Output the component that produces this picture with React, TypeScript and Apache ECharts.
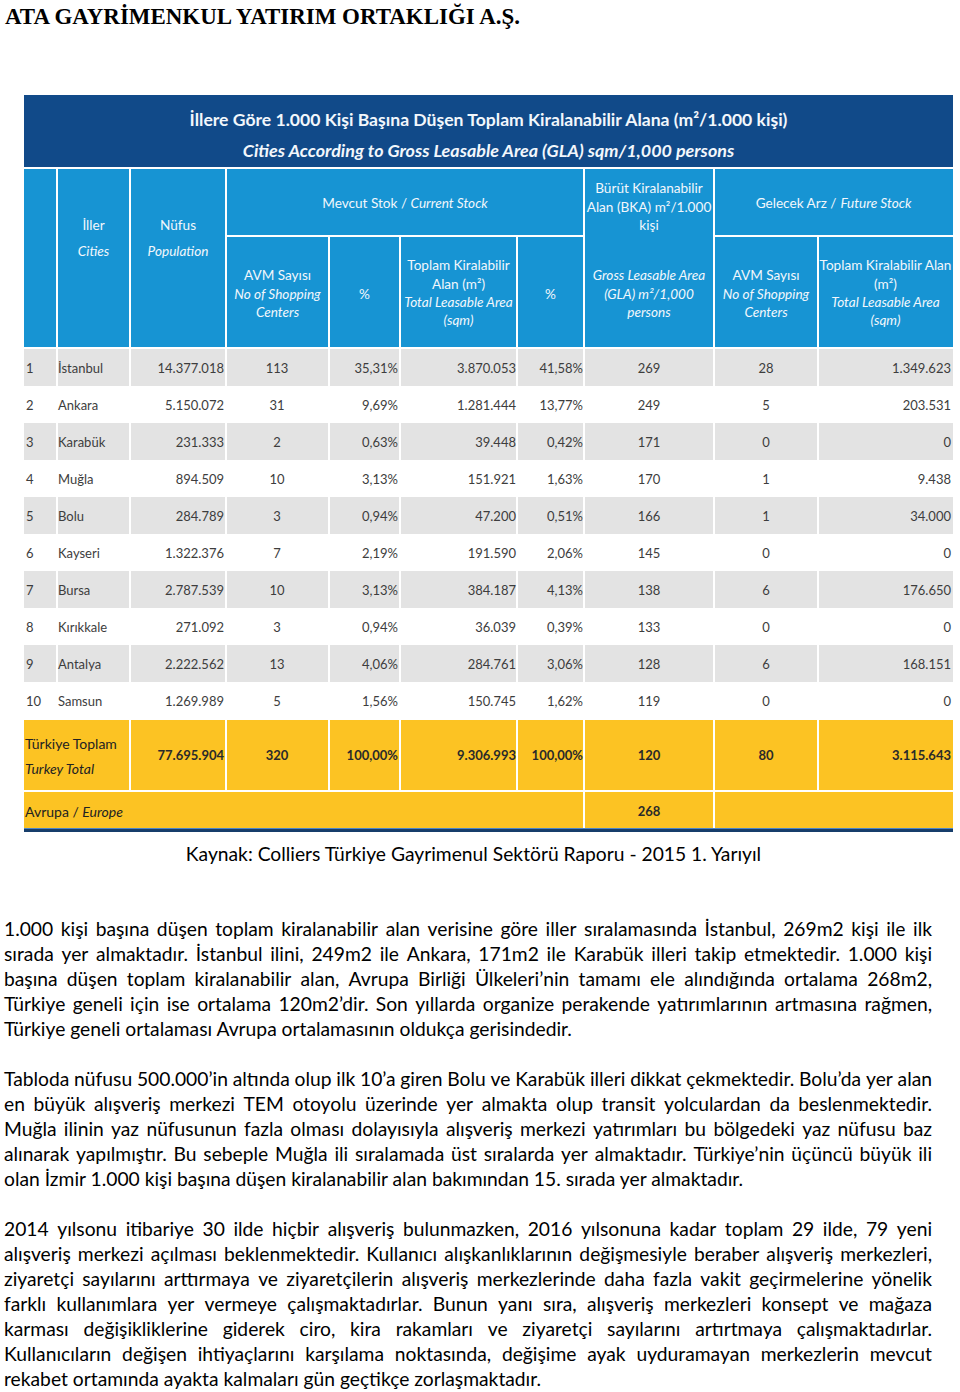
import React, { useEffect, useRef } from "react";
import * as echarts from "echarts";

// ---------- DATA ----------
const pageTitle = "ATA GAYRİMENKUL YATIRIM ORTAKLIĞI A.Ş.";
const tableTitleTr = "İllere Göre 1.000 Kişi Başına Düşen Toplam Kiralanabilir Alana (m²/1.000 kişi)";
const tableTitleEn = "Cities According to Gross Leasable Area (GLA) sqm/1,000 persons";

const ranks = [1, 2, 3, 4, 5, 6, 7, 8, 9, 10];
const cities = ["İstanbul", "Ankara", "Karabük", "Muğla", "Bolu", "Kayseri", "Bursa", "Kırıkkale", "Antalya", "Samsun"];
const population = [14377018, 5150072, 231333, 894509, 284789, 1322376, 2787539, 271092, 2222562, 1269989];
const avmCount = [113, 31, 2, 10, 3, 7, 10, 3, 13, 5];
const avmShare = [35.31, 9.69, 0.63, 3.13, 0.94, 2.19, 3.13, 0.94, 4.06, 1.56];
const glaTotal = [3870053, 1281444, 39448, 151921, 47200, 191590, 384187, 36039, 284761, 150745];
const glaShare = [41.58, 13.77, 0.42, 1.63, 0.51, 2.06, 4.13, 0.39, 3.06, 1.62];
const glaPer1000 = [269, 249, 171, 170, 166, 145, 138, 133, 128, 119];
const futureAvm = [28, 5, 0, 1, 1, 0, 6, 0, 6, 0];
const futureGla = [1349623, 203531, 0, 9438, 34000, 0, 176650, 0, 168151, 0];

const totalLabel = ["Türkiye Toplam", "Turkey Total"];
const totalPopulation = 77695904;
const totalAvm = 320;
const totalAvmShare = 100;
const totalGla = 9306993;
const totalGlaShare = 100;
const totalGlaPer1000 = 120;
const totalFutureAvm = 80;
const totalFutureGla = 3115643;

const europeLabel = ["Avrupa / ", "Europe"];
const europeGlaPer1000 = 268;

const sourceNote = "Kaynak: Colliers Türkiye Gayrimenul Sektörü Raporu - 2015 1. Yarıyıl";

const paragraphs = [
  [
    "1.000 kişi başına düşen toplam kiralanabilir alan verisine göre iller sıralamasında İstanbul, 269m2 kişi ile ilk",
    "sırada yer almaktadır. İstanbul ilini, 249m2 ile Ankara, 171m2 ile Karabük illeri takip etmektedir. 1.000 kişi",
    "başına düşen toplam kiralanabilir alan, Avrupa Birliği Ülkeleri’nin tamamı ele alındığında ortalama 268m2,",
    "Türkiye geneli için ise ortalama 120m2’dir. Son yıllarda organize perakende yatırımlarının artmasına rağmen,",
    "Türkiye geneli ortalaması Avrupa ortalamasının oldukça gerisindedir.",
  ],
  [
    "Tabloda nüfusu 500.000’in altında olup ilk 10’a giren Bolu ve Karabük illeri dikkat çekmektedir. Bolu’da yer alan",
    "en büyük alışveriş merkezi TEM otoyolu üzerinde yer almakta olup transit yolculardan da beslenmektedir.",
    "Muğla ilinin yaz nüfusunun fazla olması dolayısıyla alışveriş merkezi yatırımları bu bölgedeki yaz nüfusu baz",
    "alınarak yapılmıştır. Bu sebeple Muğla ili sıralamada üst sıralarda yer almaktadır. Türkiye’nin üçüncü büyük ili",
    "olan İzmir 1.000 kişi başına düşen kiralanabilir alan bakımından 15. sırada yer almaktadır.",
  ],
  [
    "2014 yılsonu itibariye 30 ilde hiçbir alışveriş bulunmazken, 2016 yılsonuna kadar toplam 29 ilde, 79 yeni",
    "alışveriş merkezi açılması beklenmektedir. Kullanıcı alışkanlıklarının değişmesiyle beraber alışveriş merkezleri,",
    "ziyaretçi sayılarını arttırmaya ve ziyaretçilerin alışveriş merkezlerinde daha fazla vakit geçirmelerine yönelik",
    "farklı kullanımlara yer vermeye çalışmaktadırlar. Bunun yanı sıra, alışveriş merkezleri konsept ve mağaza",
    "karması değişikliklerine giderek ciro, kira rakamları ve ziyaretçi sayılarını artırtmaya çalışmaktadırlar.",
    "Kullanıcıların değişen ihtiyaçlarını karşılama noktasında, değişime ayak uyduramayan merkezlerin mevcut",
    "rekabet ortamında ayakta kalmaları gün geçtikçe zorlaşmaktadır.",
  ],
];

// ---------- LAYOUT / STYLE ----------
const DARK = "#114a89";
const LIGHT = "#1794d3";
const GREY = "#e3e3e3";
const YELLOW = "#fcc323";
const HEAD_TXT = "#f2f7fc";
const CELL_TXT = "#3d3d3d";
const TF = "Lato, 'Noto Sans', sans-serif";
const BF = "Lato, 'Noto Sans', sans-serif";

const edges = [24, 57, 130, 226, 329, 400, 517, 584, 714, 818, 953];
const colAnchor: [number, string][] = [
  [26, "left"], [58, "left"], [224, "right"], [277, "center"], [398, "right"],
  [516, "right"], [583, "right"], [649, "center"], [766, "center"], [951, "right"],
];

const fmtInt = (n: number) => String(n).replace(/\B(?=(\d{3})+(?!\d))/g, ".");
const fmtPct = (n: number) => n.toFixed(2).replace(".", ",") + "%";

let ctx: CanvasRenderingContext2D | null = null;
function measure(t: string, font: string) {
  if (!ctx) ctx = document.createElement("canvas").getContext("2d");
  ctx!.font = font;
  return ctx!.measureText(t).width;
}
function fitSize(t: string, prefix: string, family: string, target: number) {
  const w = measure(t, `${prefix} 100px ${family}`);
  return (100 * target) / w;
}

function rect(x: number, y: number, w: number, h: number, fill: string) {
  return { type: "rect", silent: true, shape: { x, y, width: w, height: h }, style: { fill } };
}
function txt(text: string, x: number, y: number, font: string, fill: string, align = "left") {
  return {
    type: "text",
    silent: true,
    x,
    y,
    style: { text, font, fill, align, verticalAlign: "middle", textAlign: align, textVerticalAlign: "middle" },
  };
}
function mixed(segs: [string, string][], x: number, y: number, fill: string, align: string, els: any[]) {
  const ws = segs.map(([t, f]) => measure(t, f));
  const total = ws.reduce((a, b) => a + b, 0);
  let cx = align === "center" ? x - total / 2 : x;
  segs.forEach(([t, f], i) => {
    els.push(txt(t, cx, y, f, fill, "left"));
    cx += ws[i];
  });
}

function buildElements() {
  const els: any[] = [];
  // page title
  const titleSize = fitSize(pageTitle, "bold", "'Liberation Serif'", 520);
  els.push(txt(pageTitle, 5, 16, `bold ${titleSize}px 'Liberation Serif'`, "#000"));

  const L = edges[0];
  const R = edges[edges.length - 1];
  const W = R - L;

  // title band
  els.push(rect(L, 95, W, 72, DARK));
  const s1 = fitSize(tableTitleTr, "bold", TF, 600);
  const s2 = fitSize(tableTitleEn, "italic bold", TF, 493);
  els.push(txt(tableTitleTr, (L + R) / 2, 119, `bold ${s1}px ${TF}`, HEAD_TXT, "center"));
  els.push(txt(tableTitleEn, (L + R) / 2, 150, `italic bold ${s2}px ${TF}`, HEAD_TXT, "center"));

  // header band
  els.push(rect(L, 169, W, 178, LIGHT));
  [57, 130, 226, 584, 714].forEach((e) => els.push(rect(e - 1, 169, 2, 178, "#fff")));
  els.push(rect(226, 235, 584 - 226, 2, "#fff"));
  els.push(rect(714, 235, R - 714, 2, "#fff"));
  [329, 400, 517, 818].forEach((e) => els.push(rect(e - 1, 236, 2, 111, "#fff")));

  const HS = 13.6;
  const HN = `${HS}px ${TF}`;
  const HI = `italic ${HS}px ${TF}`;
  const hc = (lines: [string, string, number][], cx: number) =>
    lines.forEach(([t, f, y]) => els.push(txt(t, cx, y, f, HEAD_TXT, "center")));

  hc([["İller", HN, 225], ["Cities", HI, 251]], 93.5);
  hc([["Nüfus", HN, 225], ["Population", HI, 251]], 178);
  mixed([["Mevcut Stok / ", HN], ["Current Stock", HI]], 405, 203, HEAD_TXT, "center", els);
  mixed([["Gelecek Arz / ", HN], ["Future Stock", HI]], 833.5, 203, HEAD_TXT, "center", els);
  const avmLines: [string, string, number][] = [["AVM Sayısı", HN, 275], ["No of Shopping", HI, 294], ["Centers", HI, 312]];
  hc(avmLines, 277.5);
  hc(avmLines, 766);
  hc([["%", HN, 294]], 364.5);
  hc([["%", HN, 294]], 550.5);
  hc([["Toplam Kiralabilir", HN, 265], ["Alan (m²)", HN, 284], ["Total Leasable Area", HI, 302], ["(sqm)", HI, 320]], 458.5);
  const futHead = "Toplam Kiralabilir Alan";
  const fs = Math.min(HS, fitSize(futHead, "", TF, 133));
  hc([[futHead, `${fs}px ${TF}`, 265], ["(m²)", HN, 284], ["Total Leasable Area", HI, 302], ["(sqm)", HI, 320]], 885.5);
  hc([
    ["Bürüt Kiralanabilir", HN, 188], ["Alan (BKA) m²/1.000", HN, 207], ["kişi", HN, 225],
    ["Gross Leasable Area", HI, 275], ["(GLA) m²/1,000", HI, 294], ["persons", HI, 312],
  ], 649);

  // data rows
  const CF = `13px ${TF}`;
  const RH = 37;
  const top = 349;
  cities.forEach((city, i) => {
    const y0 = top + i * RH;
    if (i % 2 === 0) {
      els.push(rect(L, y0, W, RH, GREY));
      edges.slice(1, -1).forEach((e) => els.push(rect(e - 1, y0, 2, RH, "#fff")));
    }
    const vals = [
      String(ranks[i]), city, fmtInt(population[i]), String(avmCount[i]), fmtPct(avmShare[i]),
      fmtInt(glaTotal[i]), fmtPct(glaShare[i]), String(glaPer1000[i]), String(futureAvm[i]), fmtInt(futureGla[i]),
    ];
    const yc = y0 + RH / 2;
    vals.forEach((v, c) => els.push(txt(v, colAnchor[c][0], yc, CF, CELL_TXT, colAnchor[c][1])));
  });

  // total row
  const ty = top + 10 * RH + 1; // 720
  els.push(rect(L, ty, W, 70, YELLOW));
  [130, 226, 329, 400, 517, 584, 714, 818].forEach((e) => els.push(rect(e - 1, ty, 2, 70, "#fff")));
  els.push(txt(totalLabel[0], 25, ty + 23, `14px ${TF}`, "#222", "left"));
  els.push(txt(totalLabel[1], 25, ty + 48, `italic 14px ${TF}`, "#222", "left"));
  const TB = `bold 13px ${TF}`;
  const tvals = [
    fmtInt(totalPopulation), String(totalAvm), fmtPct(totalAvmShare), fmtInt(totalGla),
    fmtPct(totalGlaShare), String(totalGlaPer1000), String(totalFutureAvm), fmtInt(totalFutureGla),
  ];
  tvals.forEach((v, k) => {
    const c = k + 2;
    els.push(txt(v, colAnchor[c][0], ty + 35, TB, "#2a2a2a", colAnchor[c][1]));
  });

  // europe row
  const ey = ty + 72; // 792
  els.push(rect(L, ey, W, 36, YELLOW));
  [584, 714].forEach((e) => els.push(rect(e - 1, ey, 2, 36, "#fff")));
  mixed([[europeLabel[0], `14px ${TF}`], [europeLabel[1], `italic 14px ${TF}`]], 25, ey + 19, "#222", "left", els);
  els.push(txt(String(europeGlaPer1000), 649, ey + 19, TB, "#2a2a2a", "center"));
  els.push(rect(L, ey + 36, W, 1, "#4f86c6"));
  els.push(rect(L, ey + 37, W, 3, "#173e6b"));

  // body text
  const bodySize = fitSize(paragraphs[0][4], "", BF, 569);
  const BFont = `${bodySize}px ${BF}`;
  els.push(txt(sourceNote, 473.5, 853, BFont, "#000", "center"));

  const left = 4;
  const width = 928;
  const pStarts = [928, 1078, 1228];
  paragraphs.forEach((lines, p) => {
    lines.forEach((line, li) => {
      const y = pStarts[p] + li * 25;
      if (li === lines.length - 1) {
        els.push(txt(line, left, y, BFont, "#000", "left"));
        return;
      }
      const words = line.split(" ");
      const ws = words.map((w) => measure(w, BFont));
      const tot = ws.reduce((a, b) => a + b, 0);
      const gap = (width - tot) / (words.length - 1);
      let x = left;
      words.forEach((w, k) => {
        els.push(txt(w, x, y, BFont, "#000", "left"));
        x += ws[k] + gap;
      });
    });
  });
  return els;
}

export default function App() {
  const ref = useRef<HTMLDivElement>(null);
  useEffect(() => {
    if (!ref.current) return;
    const chart = echarts.init(ref.current, null, { renderer: "svg" });
    chart.setOption({
      animation: false,
      backgroundColor: "#ffffff",
      graphic: { elements: buildElements() },
    });
    return () => chart.dispose();
  }, []);
  return (
    <div
      ref={ref}
      style={{ position: "absolute", left: 0, top: 0, width: 960, height: 1392, background: "#fff" }}
    />
  );
}
